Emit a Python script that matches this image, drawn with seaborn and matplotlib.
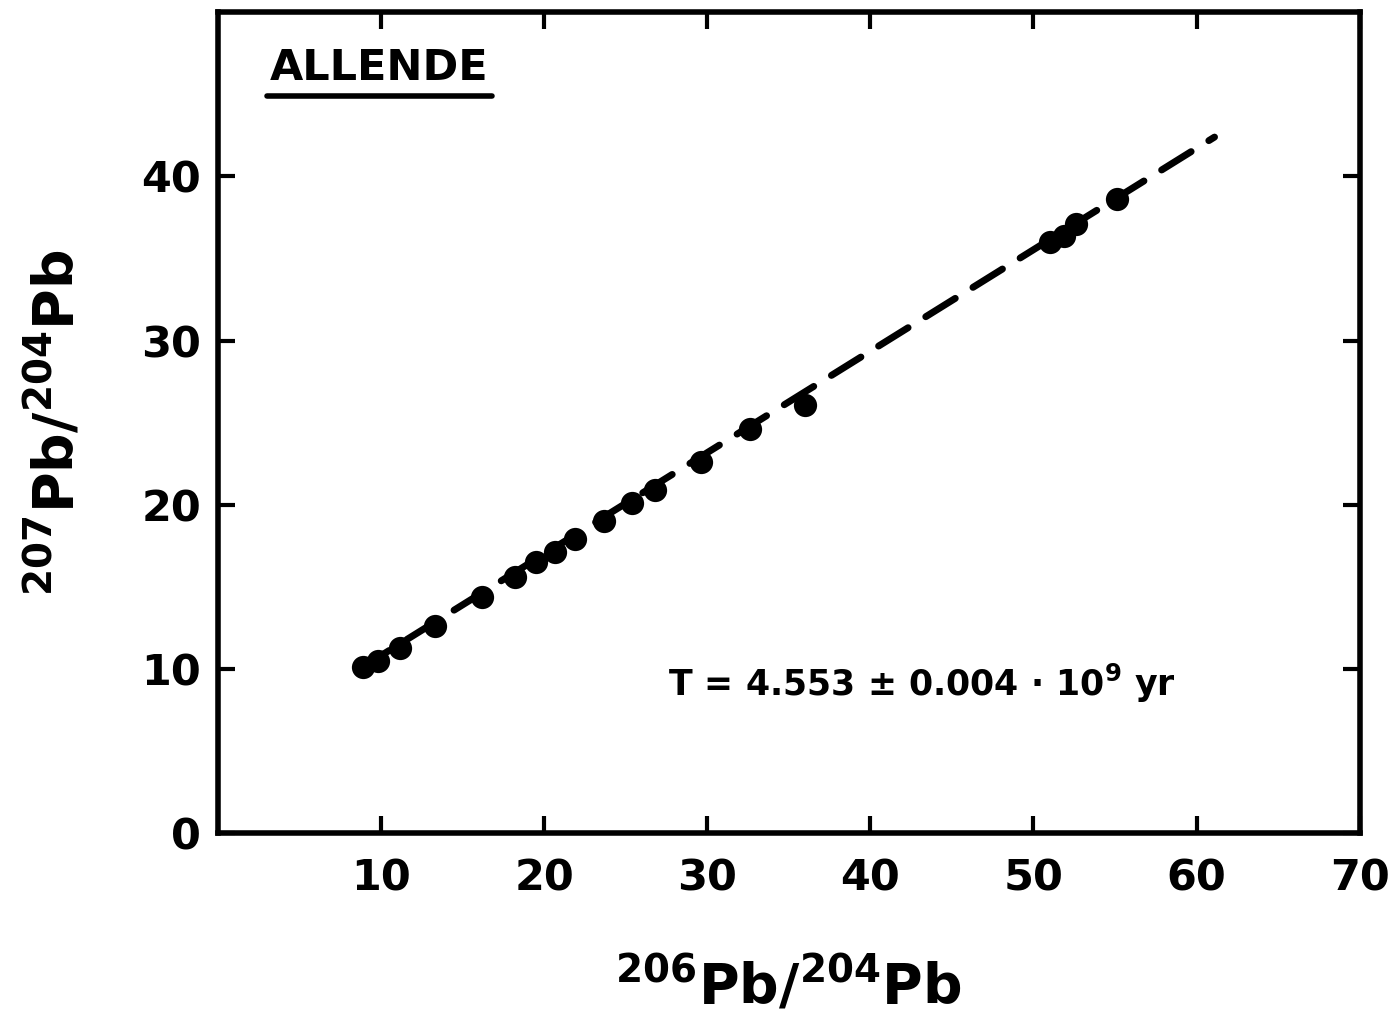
import matplotlib
matplotlib.use("Agg")
import matplotlib.pyplot as plt
import seaborn as sns
import pandas as pd

# Data
pb206_204 = [8.9, 9.8, 11.2, 13.3, 16.2, 18.2, 19.5, 20.7, 21.9, 23.7, 25.4,
             26.8, 29.6, 32.6, 36.0, 51.0, 51.9, 52.6, 55.1]
pb207_204 = [10.1, 10.5, 11.3, 12.6, 14.4, 15.6, 16.5, 17.1, 17.9, 19.0, 20.1,
             20.9, 22.6, 24.6, 26.1, 36.0, 36.4, 37.1, 38.6]
fit_x = [8.7, 61.1]
fit_y = [10.0, 42.4]
x_ticks = [10, 20, 30, 40, 50, 60, 70]
y_ticks = [0, 10, 20, 30, 40]
title_text = "ALLENDE"
age_text = r"T = 4.553 ± 0.004 · 10$^{9}$ yr"
x_label = r"$^{206}$Pb/$^{204}$Pb"
y_label = r"$^{207}$Pb/$^{204}$Pb"

sns.set_style("ticks")
plt.rcParams['font.family'] = ['DejaVu Sans']
plt.rcParams['font.weight'] = 'bold'
plt.rcParams['mathtext.default'] = 'regular'
for k in ['text.color', 'axes.labelcolor', 'xtick.color', 'ytick.color',
          'axes.edgecolor']:
    plt.rcParams[k] = 'black'

fig = plt.figure(figsize=(13.96, 10.29), dpi=100)
ax = fig.add_axes([0.156, 0.1905, 0.818, 0.7975])

df = pd.DataFrame({"x": pb206_204, "y": pb207_204})
fit = pd.DataFrame({"x": fit_x, "y": fit_y})

sns.lineplot(data=fit, x="x", y="y", ax=ax, color="black", linewidth=5,
             linestyle=(0, (5, 3)), dash_capstyle="round", sort=False)
sns.scatterplot(data=df, x="x", y="y", ax=ax, color="black", s=280,
                edgecolor="black", linewidth=0, zorder=3)

ax.set_xlim(0, 70)
ax.set_ylim(0, 50)
ax.set_xticks(x_ticks)
ax.set_yticks(y_ticks)
ax.set_xticklabels([str(v) for v in x_ticks])
ax.set_yticklabels([str(v) for v in y_ticks])
ax.tick_params(direction="in", length=12, width=3, top=True, right=True,
               labelsize=31, pad=18)
ax.tick_params(axis="y", pad=12)
for sp in ax.spines.values():
    sp.set_linewidth(4)
    sp.set_visible(True)

ax.set_xlabel(x_label, fontsize=40, fontweight="bold", labelpad=40)
ax.set_ylabel(y_label, fontsize=40, fontweight="bold", labelpad=40)

ax.text(3.2, 46.6, title_text, fontsize=31, fontweight="bold", va="center",
        ha="left")
ax.plot([3.0, 16.8], [44.9, 44.9], color="black", linewidth=4,
        solid_capstyle="round")
ax.text(27.6, 9.1, age_text, fontsize=25, fontweight="bold", va="center",
        ha="left")

fig.savefig("out.png", dpi=100)
